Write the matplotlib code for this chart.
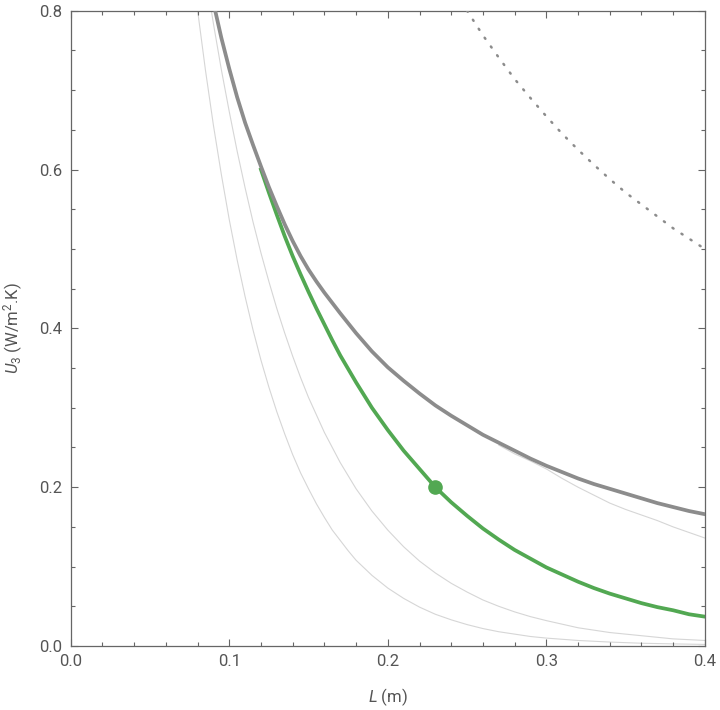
import matplotlib
matplotlib.use("Agg")
import matplotlib.pyplot as plt
from matplotlib.ticker import MultipleLocator

plt.rcParams['font.family'] = ['Roboto', 'DejaVu Sans']
plt.rcParams['mathtext.fontset'] = 'custom'
plt.rcParams['mathtext.rm'] = 'Roboto'
plt.rcParams['mathtext.it'] = 'Roboto:italic'

# envelope curve (thick gray)
L_env = [0.088, 0.09, 0.095, 0.10, 0.105, 0.11, 0.115, 0.12, 0.125, 0.13, 0.135, 0.14,
         0.145, 0.15, 0.155, 0.16, 0.17, 0.18, 0.19, 0.20, 0.21, 0.22, 0.23, 0.24,
         0.25, 0.26, 0.27, 0.28, 0.29, 0.30, 0.31, 0.32, 0.33, 0.34, 0.35, 0.36,
         0.37, 0.38, 0.39, 0.40]
U_env = [0.830, 0.810, 0.766, 0.727, 0.691, 0.659, 0.631, 0.604, 0.578, 0.554, 0.531, 0.510,
         0.491, 0.474, 0.459, 0.445, 0.419, 0.394, 0.371, 0.351, 0.334, 0.318, 0.303, 0.290,
         0.278, 0.266, 0.256, 0.246, 0.236, 0.227, 0.219, 0.211, 0.204, 0.198, 0.192, 0.186,
         0.180, 0.175, 0.170, 0.166]

# selected design curve (green)
L_green = [0.12, 0.125, 0.13, 0.135, 0.14, 0.145, 0.15, 0.155, 0.16, 0.165, 0.17, 0.175,
           0.18, 0.185, 0.19, 0.195, 0.20, 0.21, 0.22, 0.23, 0.24, 0.25, 0.26, 0.27,
           0.28, 0.29, 0.30, 0.31, 0.32, 0.33, 0.34, 0.35, 0.36, 0.37, 0.38, 0.39, 0.40]
U_green = [0.600, 0.571, 0.543, 0.516, 0.491, 0.468, 0.446, 0.425, 0.405, 0.385, 0.366, 0.349,
           0.332, 0.316, 0.300, 0.286, 0.272, 0.246, 0.223, 0.200, 0.181, 0.164, 0.148, 0.134,
           0.121, 0.110, 0.099, 0.090, 0.081, 0.073, 0.066, 0.060, 0.054, 0.049, 0.045, 0.040,
           0.037]

# thin family curves
L_thin1 = [0.078, 0.08, 0.085, 0.09, 0.095, 0.10, 0.105, 0.11, 0.115, 0.12, 0.125, 0.13,
           0.135, 0.14, 0.145, 0.15, 0.155, 0.16, 0.165, 0.17, 0.175, 0.18, 0.19, 0.20,
           0.21, 0.22, 0.23, 0.24, 0.25, 0.26, 0.27, 0.28, 0.29, 0.30, 0.32, 0.34,
           0.36, 0.38, 0.40]
U_thin1 = [0.834, 0.801, 0.725, 0.656, 0.594, 0.537, 0.486, 0.440, 0.398, 0.360, 0.326, 0.295,
           0.267, 0.241, 0.218, 0.198, 0.179, 0.162, 0.146, 0.133, 0.120, 0.108, 0.089, 0.073,
           0.060, 0.049, 0.040, 0.033, 0.027, 0.022, 0.018, 0.015, 0.012, 0.010, 0.007, 0.005,
           0.0035, 0.0027, 0.002]

L_thin2 = [0.085, 0.09, 0.095, 0.10, 0.105, 0.11, 0.115, 0.12, 0.125, 0.13, 0.135, 0.14,
           0.145, 0.15, 0.16, 0.17, 0.18, 0.19, 0.20, 0.21, 0.22, 0.23, 0.24, 0.25,
           0.26, 0.27, 0.28, 0.29, 0.30, 0.32, 0.34, 0.36, 0.38, 0.40]
U_thin2 = [0.846, 0.784, 0.726, 0.673, 0.623, 0.577, 0.534, 0.495, 0.459, 0.425, 0.394, 0.365,
           0.338, 0.313, 0.269, 0.231, 0.198, 0.170, 0.146, 0.125, 0.107, 0.092, 0.079, 0.068,
           0.058, 0.050, 0.043, 0.037, 0.032, 0.023, 0.017, 0.013, 0.009, 0.007]

L_thin3 = [0.27, 0.28, 0.29, 0.30, 0.31, 0.32, 0.33, 0.34, 0.35, 0.36, 0.37, 0.38, 0.39, 0.40]
U_thin3 = [0.253, 0.242, 0.233, 0.223, 0.211, 0.200, 0.190, 0.180, 0.172, 0.165, 0.158, 0.150,
           0.143, 0.136]

# dotted reference curve
L_dot = [0.25, 0.26, 0.27, 0.28, 0.29, 0.30, 0.31, 0.32, 0.33, 0.34, 0.35, 0.36, 0.37,
         0.38, 0.39, 0.40]
U_dot = [0.800, 0.769, 0.741, 0.714, 0.690, 0.667, 0.645, 0.625, 0.606, 0.588, 0.571, 0.556,
         0.541, 0.526, 0.513, 0.500]

# design point
L_pt = [0.23]
U_pt = [0.20]

fig = plt.figure(figsize=(7.2, 7.1), dpi=100)
ax = fig.add_axes([0.0982, 0.0901, 0.8808, 0.8948])

thin_col = '#d6d6d6'
ax.plot(L_thin1, U_thin1, color=thin_col, lw=0.8, zorder=1)
ax.plot(L_thin2, U_thin2, color=thin_col, lw=0.8, zorder=1)
ax.plot(L_thin3, U_thin3, color=thin_col, lw=0.8, zorder=1)
ax.plot(L_green, U_green, color='#52a852', lw=2.7, zorder=2)
ax.plot(L_env, U_env, color='#8c8c8c', lw=2.7, zorder=3)
ax.plot(L_dot, U_dot, color='#8c8c8c', lw=1.8, linestyle=(0, (0.5, 3.8)),
        dash_capstyle='round', zorder=3)
ax.plot(L_pt, U_pt, 'o', color='#52a852', markersize=9.5, zorder=4)

ax.set_xlim(0, 0.4)
ax.set_ylim(0, 0.8)

ax.xaxis.set_major_locator(MultipleLocator(0.1))
ax.xaxis.set_minor_locator(MultipleLocator(0.02))
ax.yaxis.set_major_locator(MultipleLocator(0.2))
ax.yaxis.set_minor_locator(MultipleLocator(0.05))
ax.xaxis.set_major_formatter(plt.FuncFormatter(lambda v, p: f"{v:.1f}"))
ax.yaxis.set_major_formatter(plt.FuncFormatter(lambda v, p: f"{v:.1f}"))

axis_col = '#666666'
for s in ax.spines.values():
    s.set_color(axis_col)
    s.set_linewidth(0.9)
ax.tick_params(which='both', direction='in', top=True, right=True,
               color=axis_col, labelcolor='#555555', labelsize=12, width=0.8)
ax.tick_params(which='major', length=5, pad=6)
ax.tick_params(which='minor', length=3)

ax.set_xlabel(r'$L$ (m)', fontsize=12, color='#555555', labelpad=12)
ax.set_ylabel(r'$U_3$ (W/m$^2$.K)', fontsize=12, color='#555555', labelpad=10)

fig.savefig('out.png', dpi=100)
